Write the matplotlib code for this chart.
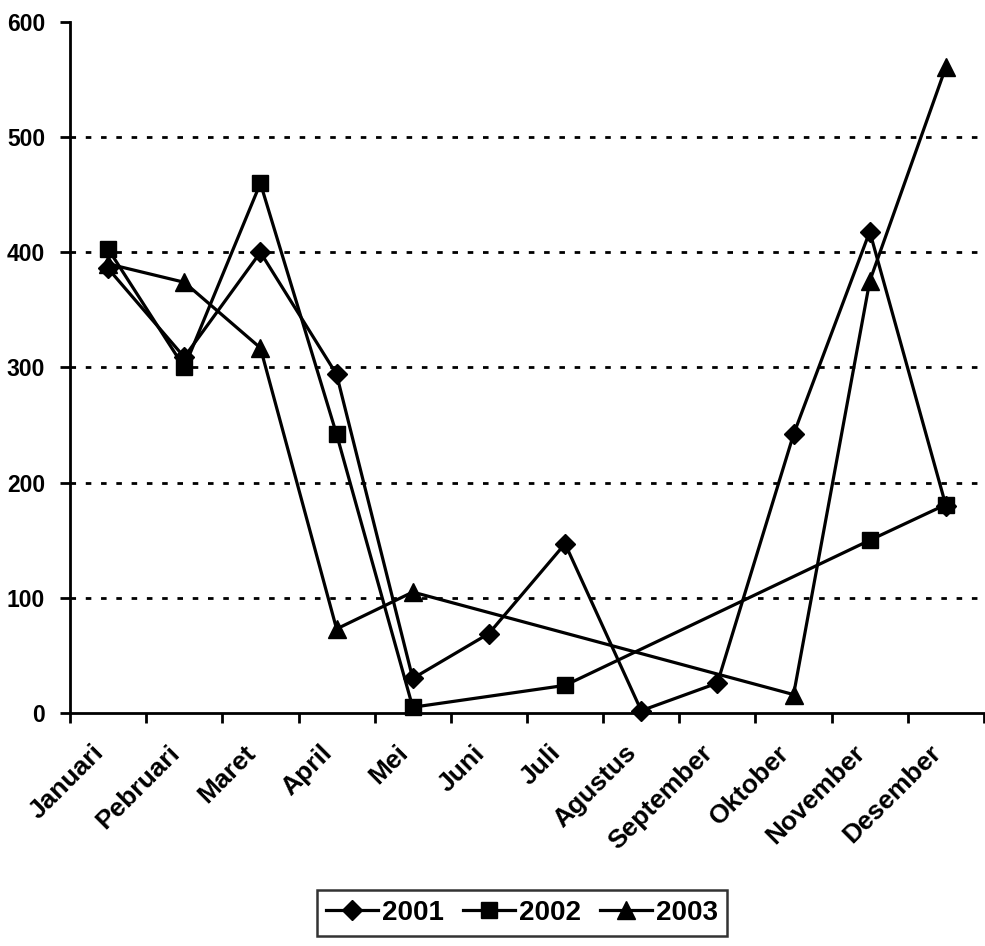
import matplotlib
matplotlib.use("Agg")
import matplotlib.pyplot as plt
import numpy as np

months = ["Januari", "Pebruari", "Maret", "April", "Mei", "Juni", "Juli",
          "Agustus", "September", "Oktober", "November", "Desember"]
s2001 = [386, 309, 400, 294, 30, 69, 147, 2, 26, 242, 418, 180]
s2002 = [403, 300, 460, 242, 5, None, 24, None, None, None, 150, 181]
s2003 = [390, 374, 317, 73, 105, None, None, None, None, 16, 375, 561]
yticks = [0, 100, 200, 300, 400, 500, 600]

plt.rcParams['font.family'] = ['Liberation Sans', 'DejaVu Sans']

fig = plt.figure(figsize=(9.85, 9.46), dpi=100)
ax = fig.add_axes([70/985, 1-713/946, 914/985, (713-22)/946])

def plot_series(vals, marker, ms, label):
    xs = [i + 0.5 for i, v in enumerate(vals) if v is not None]
    ys = [v for v in vals if v is not None]
    ax.plot(xs, ys, color='black', lw=2.3, marker=marker, ms=ms,
            markerfacecolor='black', markeredgecolor='black', label=label,
            clip_on=False, zorder=3)

plot_series(s2001, 'D', 10, '2001')
plot_series(s2002, 's', 11.5, '2002')
plot_series(s2003, '^', 12.5, '2003')

ax.set_xlim(0, 12)
ax.set_ylim(0, 600)
ax.set_yticks(yticks)
ax.set_yticklabels([str(v) for v in yticks], fontsize=16.5, fontweight='bold')
for v in yticks[1:-1]:
    ax.axhline(v, color='black', lw=2, ls=(0, (2, 3.5)), zorder=1)

ax.set_xticks(np.arange(0, 13))
ax.set_xticklabels([])
for i, m in enumerate(months):
    ax.text(i + 0.5 - 0.22, -24, m, rotation=45, ha='right', va='top',
            rotation_mode='anchor', fontsize=19, fontweight='bold',
            transform=ax.transData)

for side in ['top', 'right']:
    ax.spines[side].set_visible(False)
ax.spines['left'].set_linewidth(2)
ax.spines['bottom'].set_linewidth(2)
ax.tick_params(axis='both', direction='out', length=7, width=2, color='black')
ax.tick_params(axis='y', pad=11)

leg = fig.legend(loc='center', bbox_to_anchor=(522/985, 1-913/946), ncol=3,
                 frameon=True, fancybox=False, edgecolor='black',
                 prop={'size': 20, 'weight': 'bold'},
                 handlelength=1.85, handletextpad=0.15, columnspacing=0.7,
                 borderpad=0.35, borderaxespad=0)
leg.get_frame().set_linewidth(1.8)

fig.savefig("out.png", dpi=100)
